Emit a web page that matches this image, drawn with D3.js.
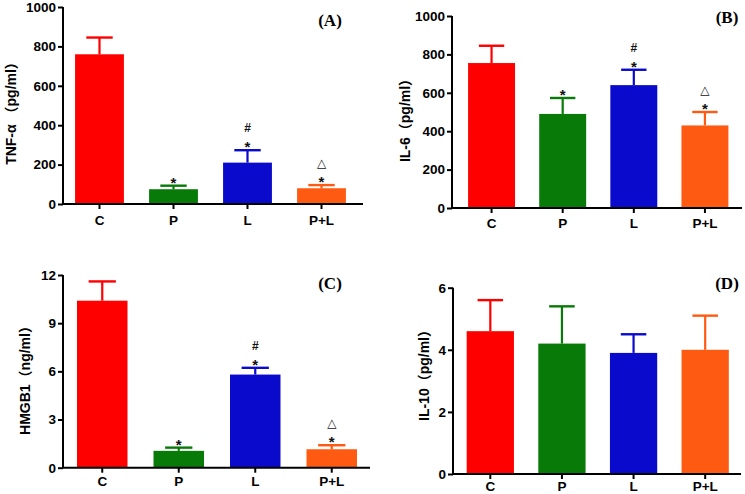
<!DOCTYPE html>
<html><head><meta charset="utf-8">
<script src="https://cdn.jsdelivr.net/npm/d3@7"></script>
<style>body{margin:0;background:#fff}svg{display:block}</style>
</head><body>
<svg id="c" width="745" height="494"></svg>
<script>
const categories = ["C","P","L","P+L"];
const colors = ["#ff0000","#077a07","#0a0acc","#ff5a12"];

const tnfMean = [760, 75, 210, 80];
const tnfErr  = [85, 18, 63, 16];
const tnfTicks = [0,200,400,600,800,1000];

const il6Mean = [755, 490, 640, 430];
const il6Err  = [90, 83, 80, 70];
const il6Ticks = [0,200,400,600,800,1000];

const hmgbMean = [10.4, 1.05, 5.8, 1.15];
const hmgbErr  = [1.2, 0.2, 0.42, 0.25];
const hmgbTicks = [0,3,6,9,12];

const il10Mean = [4.6, 4.2, 3.9, 4.0];
const il10Err  = [1.0, 1.2, 0.6, 1.1];
const il10Ticks = [0,2,4,6];

const sigMarks = [[], ["*"], ["*","#"], ["*","\u25B3"]];
const noMarks = [[],[],[],[]];

const panels = [
  {mean:tnfMean, err:tnfErr, ticks:tnfTicks, yMax:1000, label:"TNF-\u03b1 \uff08pg/ml\uff09", tag:"(A)", marks:sigMarks,
   ax:63, yT:7, yB:204, xr:[62.5,358.5], xEnd:363, lab:[11,110], tagPos:[330,26], pad:6},
  {mean:il6Mean, err:il6Err, ticks:il6Ticks, yMax:1000, label:"IL-6\uff08pg/ml\uff09", tag:"(B)", marks:sigMarks,
   ax:452, yT:16, yB:208, xr:[456,740.5], xEnd:742, lab:[405,117], tagPos:[727,23], pad:5},
  {mean:hmgbMean, err:hmgbErr, ticks:hmgbTicks, yMax:12, label:"HMGB1\uff08ng/ml\uff09", tag:"(C)", marks:sigMarks,
   ax:63, yT:275, yB:467.7, xr:[64,370], xEnd:370, lab:[25,377], tagPos:[330,289], pad:4},
  {mean:il10Mean, err:il10Err, ticks:il10Ticks, yMax:6, label:"IL-10\uff08pg/ml\uff09", tag:"(D)", marks:noMarks,
   ax:453, yT:287.7, yB:474, xr:[454.5,741], xEnd:741, lab:[424,372], tagPos:[727,289], pad:2}
];

const svg = d3.select("#c");
const font = "Arial, 'Liberation Sans', sans-serif";

panels.forEach(p => {
  const g = svg.append("g");
  const y = d3.scaleLinear().domain([0,p.yMax]).range([p.yB,p.yT]);
  const x = d3.scaleBand().domain(categories).range(p.xr).paddingInner(0.34).paddingOuter(0.17);
  const bw = x.bandwidth();
  const capW = bw*0.54;

  g.selectAll("rect.bar").data(categories).join("rect")
    .attr("x", d => x(d)).attr("y", (d,i) => y(p.mean[i]))
    .attr("width", bw).attr("height", (d,i) => p.yB - y(p.mean[i]))
    .attr("fill", (d,i) => colors[i]);

  categories.forEach((c,i) => {
    const cx = x(c) + bw/2;
    const top = y(p.mean[i] + p.err[i]);
    g.append("line").attr("x1",cx).attr("x2",cx).attr("y1",y(p.mean[i])).attr("y2",top)
      .attr("stroke",colors[i]).attr("stroke-width",2.2);
    g.append("line").attr("x1",cx-capW/2).attr("x2",cx+capW/2).attr("y1",top).attr("y2",top)
      .attr("stroke",colors[i]).attr("stroke-width",2.4);
    p.marks[i].forEach((m,k) => {
      const isStar = m === "*";
      const isTri = m === "\u25B3";
      g.append("text").attr("x",cx)
        .attr("y", top - 8 - k*14 + (isStar ? 4.5 : 0))
        .attr("text-anchor","middle").attr("dominant-baseline","central")
        .attr("font-family", isTri ? "'DejaVu Sans', sans-serif" : font)
        .attr("font-weight", isTri ? "normal" : "bold")
        .attr("font-size", isTri ? 12 : (isStar ? 15 : 12))
        .attr("fill","#111").text(m);
    });
  });

  const ya = d3.axisLeft(y).tickValues(p.ticks).tickFormat(d3.format("d")).tickSize(5).tickSizeOuter(0).tickPadding(2);
  const yg = g.append("g").attr("transform",`translate(${p.ax},0)`).call(ya);
  yg.select(".domain").attr("stroke","#000").attr("stroke-width",2).attr("d",`M0,${p.yB}V${p.yT}`);
  yg.selectAll(".tick line").attr("stroke","#000").attr("stroke-width",2);
  yg.selectAll(".tick text").attr("font-family",font).attr("font-weight","bold").attr("font-size",13.5).attr("fill","#000");

  g.append("line").attr("x1",p.ax-1).attr("x2",p.xEnd).attr("y1",p.yB).attr("y2",p.yB)
    .attr("stroke","#000").attr("stroke-width",2);
  const xa = d3.axisBottom(x).tickSize(5).tickSizeOuter(0).tickPadding(p.pad);
  const xg = g.append("g").attr("transform",`translate(0,${p.yB})`).call(xa);
  xg.select(".domain").remove();
  xg.selectAll(".tick line").attr("stroke","#000").attr("stroke-width",2);
  xg.selectAll(".tick text").attr("font-family",font).attr("font-weight","bold").attr("font-size",13.5).attr("fill","#000");

  g.append("text").attr("transform",`translate(${p.lab[0]},${p.lab[1]}) rotate(-90)`)
    .attr("text-anchor","middle").attr("dominant-baseline","central")
    .attr("font-family","Arial, 'Noto Sans CJK SC', sans-serif").attr("font-weight","bold").attr("font-size",14)
    .attr("fill","#000").text(p.label);

  g.append("text").attr("x",p.tagPos[0]).attr("y",p.tagPos[1]).attr("text-anchor","middle")
    .attr("font-family","'Liberation Serif','Times New Roman',serif").attr("font-weight","bold").attr("font-size",17)
    .attr("fill","#000").text(p.tag);
});
</script>
</body></html>
